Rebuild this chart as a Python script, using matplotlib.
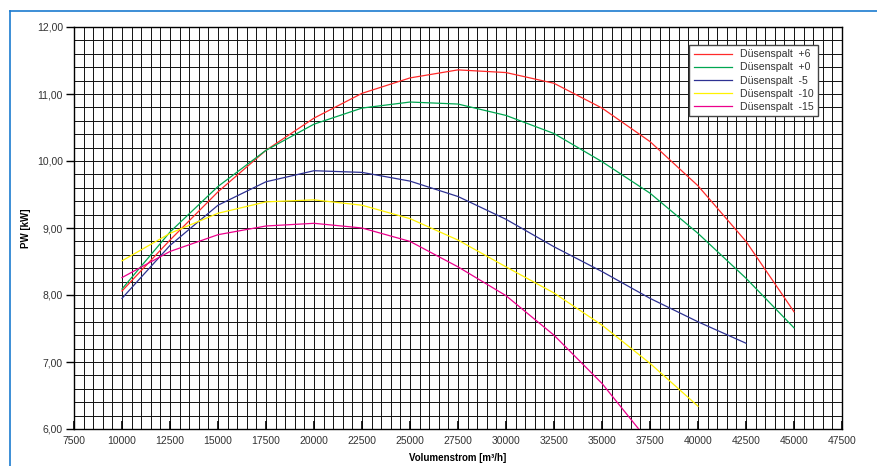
import matplotlib
matplotlib.use('Agg')
import matplotlib.pyplot as plt
from matplotlib.ticker import MultipleLocator, FuncFormatter
from matplotlib.lines import Line2D

plt.rcParams['font.family'] = ['Liberation Sans', 'DejaVu Sans']

# =====================
# DATA
# =====================
volumenstrom = [10000, 12500, 15000, 17500, 20000, 22500, 25000, 27500,
                30000, 32500, 35000, 37500, 40000, 42500, 45000]

spalt_p6 = [8.06, 8.82, 9.54, 10.16, 10.64, 11.01, 11.24, 11.36,
            11.32, 11.16, 10.79, 10.29, 9.63, 8.80, 7.75]
spalt_p0 = [8.09, 8.94, 9.62, 10.16, 10.55, 10.79, 10.88, 10.85,
            10.68, 10.41, 9.99, 9.52, 8.92, 8.25, 7.51]
spalt_m5 = [7.95, 8.74, 9.34, 9.69, 9.855, 9.83, 9.70, 9.47,
            9.13, 8.72, 8.35, 7.95, 7.60, 7.28]
spalt_m10 = [8.51, 8.92, 9.22, 9.39, 9.42, 9.34, 9.14, 8.82,
             8.42, 8.03, 7.55, 6.98, 6.34]
spalt_m15 = [8.26, 8.65, 8.90, 9.03, 9.07, 9.00, 8.80, 8.42,
             7.99, 7.40, 6.68, 5.79]

series = [
    ("Düsenspalt  +6", spalt_p6, "#ff2a2a"),
    ("Düsenspalt  +0", spalt_p0, "#00a650"),
    ("Düsenspalt  -5", spalt_m5, "#2e3192"),
    ("Düsenspalt  -10", spalt_m10, "#fff200"),
    ("Düsenspalt  -15", spalt_m15, "#ec008c"),
]

# =====================
# FIGURE
# =====================
fig = plt.figure(figsize=(8.77, 4.66), dpi=100)
ax = fig.add_axes([74/877, 1-429/466, (842-74)/877, (429-27)/466])

# blue frame lines (top + left)
fig.add_artist(Line2D([10/877, 1], [1-11/466, 1-11/466], color="#1b7bd0", lw=1.2,
                      transform=fig.transFigure))
fig.add_artist(Line2D([10/877, 10/877], [0, 1-11/466], color="#1b7bd0", lw=1.2,
                      transform=fig.transFigure))

for name, vals, col in series:
    ax.plot(volumenstrom[:len(vals)], vals, color=col, lw=0.9, label=name,
            clip_on=True, zorder=3)

ax.set_xlim(7500, 47500)
ax.set_ylim(6, 12)

ax.xaxis.set_major_locator(MultipleLocator(2500))
ax.xaxis.set_minor_locator(MultipleLocator(500))
ax.yaxis.set_major_locator(MultipleLocator(1))
ax.yaxis.set_minor_locator(MultipleLocator(0.2))
ax.yaxis.set_major_formatter(FuncFormatter(lambda v, p: f"{v:.2f}".replace('.', ',')))

ax.grid(which='both', color='#111111', lw=0.7, zorder=1)
ax.set_axisbelow(True)

ax.tick_params(axis='x', which='major', direction='in', length=6, width=1.2,
               labelsize=7.5, labelcolor='#333333', pad=5)
ax.tick_params(axis='y', which='major', direction='out', length=6, width=1,
               labelsize=7.5, labelcolor='#333333', pad=2)
ax.tick_params(which='minor', length=0)

for s in ax.spines.values():
    s.set_color('black')
    s.set_linewidth(1.0)

ax.set_xlabel("Volumenstrom [m³/h]", fontsize=7, fontweight='bold', labelpad=5)
ax.set_ylabel("PW [kW]", fontsize=7, fontweight='bold', labelpad=4)

leg = ax.legend(loc='upper right', bbox_to_anchor=(818/877, 1-45/466),
                bbox_transform=fig.transFigure, fontsize=7.6, frameon=True,
                fancybox=False, edgecolor='#444444', framealpha=1,
                handlelength=3.6, borderpad=0.4, labelspacing=0.3,
                handletextpad=0.8, borderaxespad=0)
leg.get_frame().set_linewidth(1.0)
for t in leg.get_texts():
    t.set_color('#333333')

fig.savefig("out.png", dpi=100)
